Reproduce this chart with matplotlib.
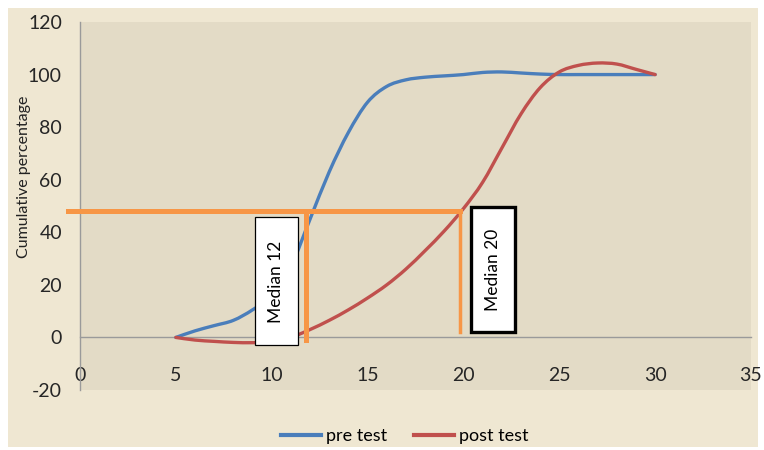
import matplotlib
matplotlib.use("Agg")
import matplotlib.pyplot as plt
from matplotlib.patches import Rectangle, PathPatch
from matplotlib.path import Path
from matplotlib.lines import Line2D

plt.rcParams['font.family'] = ['Lato', 'DejaVu Sans']
plt.rcParams['axes.unicode_minus'] = False

# score values and cumulative percentages
scores = [5, 6, 7, 8, 9, 10, 11, 12, 13, 14, 15, 16, 17, 18, 19, 20,
          21, 22, 23, 24, 25, 26, 27, 28, 29, 30]
pre_test = [0, 2.5, 4.5, 6.5, 10.5, 16, 27, 45, 63, 78, 89.5, 95.5, 98, 99, 99.5, 100,
            100.8, 101, 100.6, 100.2, 100, 100, 100, 100, 100, 100]
post_test = [0, -1, -1.5, -1.9, -2, -1.6, 0, 3, 6.5, 10.5, 15, 20, 26, 33, 40.5, 49,
             59, 72, 85, 95, 101, 103.5, 104.4, 104, 102, 100]

median_level = 48
median_x = [11.8, 19.8]
median_labels = ["Median 12", "Median 20"]

x_ticks = [0, 5, 10, 15, 20, 25, 30, 35]
y_ticks = [-20, 0, 20, 40, 60, 80, 100, 120]

blue = "#4a7ebb"
red = "#c0504d"
orange = "#f79646"


def smooth_path(xs, ys):
    # Excel style smoothed line: bezier segments through every point
    pts = list(zip(xs, ys))
    verts = [pts[0]]
    codes = [Path.MOVETO]
    n = len(pts)
    for i in range(n - 1):
        p0 = pts[max(i - 1, 0)]
        p1 = pts[i]
        p2 = pts[i + 1]
        p3 = pts[min(i + 2, n - 1)]
        c1 = (p1[0] + (p2[0] - p0[0]) / 6, p1[1] + (p2[1] - p0[1]) / 6)
        c2 = (p2[0] - (p3[0] - p1[0]) / 6, p2[1] - (p3[1] - p1[1]) / 6)
        verts += [c1, c2, p2]
        codes += [Path.CURVE4] * 3
    return Path(verts, codes)


fig = plt.figure(figsize=(7.64, 4.5), dpi=100)
fig.patch.set_facecolor("white")
# cream chart area
fig.patches.append(Rectangle((8 / 764, 3 / 450), 750 / 764, 439 / 450,
                             transform=fig.transFigure, facecolor="#efe7d2",
                             edgecolor="none", zorder=0))

ax = fig.add_axes([80 / 764, 1 - 390 / 450, 671 / 764, 368 / 450])
ax.set_zorder(2)
ax.set_facecolor("#e3dbc6")

ax.add_patch(PathPatch(smooth_path(scores, pre_test), facecolor="none",
                       edgecolor=blue, lw=2.4, zorder=3, capstyle="round"))
ax.add_patch(PathPatch(smooth_path(scores, post_test), facecolor="none",
                       edgecolor=red, lw=2.4, zorder=3, capstyle="round"))

# median guide lines
ax.plot([-0.6, median_x[1]], [median_level, median_level], color=orange, lw=3.6,
        zorder=4, clip_on=False)
ax.plot([median_x[0], median_x[0]], [median_level, -0.8], color=orange, lw=3.6, zorder=4)
ax.plot([median_x[1], median_x[1]], [median_level, 2], color=orange, lw=2.5, zorder=4)

# median label boxes
ax.add_patch(Rectangle((median_x[0] - 2.68, -3.0), 2.23, 48.7, facecolor="white",
                       edgecolor="black", lw=0.9, zorder=5))
ax.text(median_x[0] - 1.56, 21.3, median_labels[0], rotation=90, ha="center",
        va="center", fontsize=12.5, zorder=6)
ax.add_patch(Rectangle((median_x[1] + 0.6, 1.9), 2.3, 47.6, facecolor="white",
                       edgecolor="black", lw=2.4, zorder=5))
ax.text(median_x[1] + 1.75, 25.7, median_labels[1], rotation=90, ha="center",
        va="center", fontsize=12.5, zorder=6)

ax.set_xlim(0, 35)
ax.set_ylim(-20, 120)
ax.set_xticks(x_ticks)
ax.set_yticks(y_ticks)
ax.spines['top'].set_visible(False)
ax.spines['right'].set_visible(False)
ax.spines['bottom'].set_position(('data', 0))
for s in ('left', 'bottom'):
    ax.spines[s].set_color("#9a9a9a")
    ax.spines[s].set_linewidth(1.0)
ax.tick_params(axis='x', length=0, pad=21, labelsize=14)
ax.tick_params(axis='y', length=0, pad=13, labelsize=14)
for lab in ax.get_xticklabels() + ax.get_yticklabels():
    lab.set_color("#262626")

fig.text(24 / 764, 1 - 177 / 450, "Cumulative percentage", rotation=90,
         ha="center", va="center", fontsize=11.5, color="#222222")

handles = [Line2D([], [], color=blue, lw=3), Line2D([], [], color=red, lw=3)]
fig.legend(handles, ["pre test", "post test"], loc="center",
           bbox_to_anchor=(405 / 764, 1 - 436 / 450), ncol=2,
           frameon=False, fontsize=13, handlelength=2.2, columnspacing=1.5,
           handletextpad=0.3)

fig.savefig("out.png", dpi=100, facecolor=fig.get_facecolor())
